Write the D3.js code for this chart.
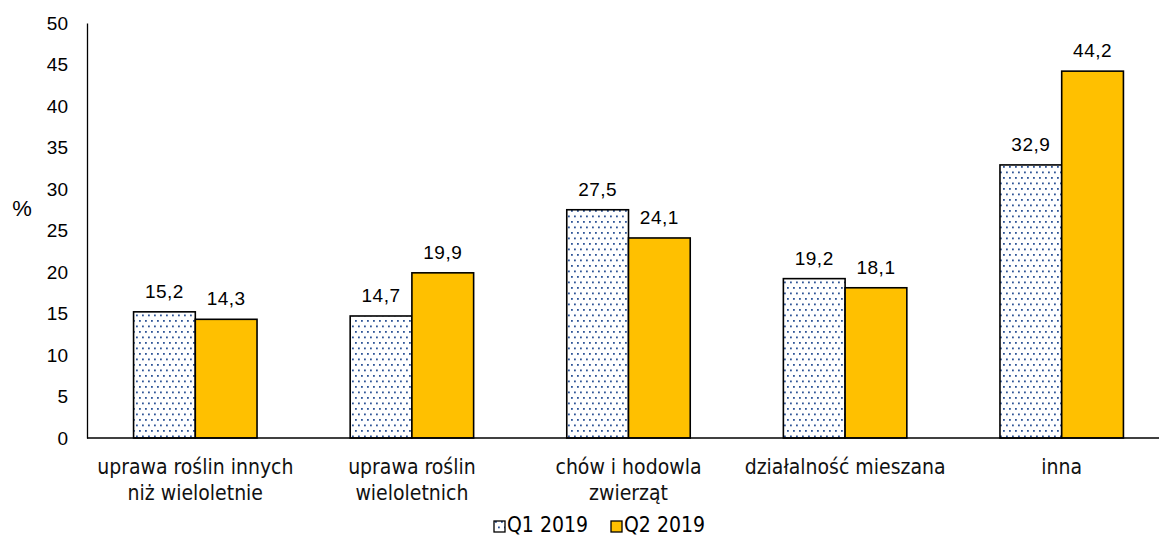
<!DOCTYPE html>
<html>
<head>
<meta charset="utf-8">
<script src="https://cdn.jsdelivr.net/npm/d3@7"></script>
<style>
body { margin: 0; background: #fff; }
</style>
</head>
<body>
<script>
// categories, one entry per line of the label
var categories = ["uprawa roślin innych niż wieloletnie", "uprawa roślin wieloletnich", "chów i hodowla zwierząt", "działalność mieszana", "inna"]
var labelLines = [
	["uprawa roślin innych", "niż wieloletnie"],
	["uprawa roślin", "wieloletnich"],
	["chów i hodowla", "zwierząt"],
	["działalność mieszana"],
	["inna"]
]
var seriesNames = ["Q1 2019", "Q2 2019"]
var q1 = [15.2, 14.7, 27.5, 19.2, 32.9]
var q2 = [14.3, 19.9, 24.1, 18.1, 44.2]
var yTicks = [0, 5, 10, 15, 20, 25, 30, 35, 40, 45, 50]

window.onload = function(){
	DrawChart()
}

function DrawChart(){
	var W = 1159, H = 537
	var left = 87, right = 1170, top = 23, bottom = 438
	var catFont = "'DejaVu Sans Condensed', 'DejaVu Sans', sans-serif"
	var numFont = "'Liberation Sans', Arial, sans-serif"

	var svg = d3.select("body").append("svg")
		.attr("width", W)
		.attr("height", H)

	//dotted pattern for Q1
	var defs = svg.append("defs")
	var pat = defs.append("pattern")
		.attr("id", "dots")
		.attr("patternUnits", "userSpaceOnUse")
		.attr("width", 6)
		.attr("height", 11)
	pat.append("rect").attr("width", 6).attr("height", 11).attr("fill", "#fff")
	pat.append("rect").attr("x", 1).attr("y", 1).attr("width", 1.8).attr("height", 1.8).attr("fill", "#2f5597")
	pat.append("rect").attr("x", 4).attr("y", 6.5).attr("width", 1.8).attr("height", 1.8).attr("fill", "#2f5597")

	var x = d3.scaleBand()
		.domain(categories)
		.range([left, right])
		.paddingInner(0.43)
		.paddingOuter(0.215)

	var xs = d3.scaleBand()
		.domain(seriesNames)
		.range([0, x.bandwidth()])

	var y = d3.scaleLinear()
		.domain([0, 50])
		.range([bottom, top])

	//y axis
	var yAxis = svg.append("g")
		.attr("transform", "translate(" + left + ",0)")
		.call(d3.axisLeft(y).tickValues(yTicks).tickSize(0).tickPadding(19))
	yAxis.select(".domain").attr("stroke", "#000").attr("stroke-width", 1.3)
	yAxis.selectAll("text")
		.style("font-family", numFont)
		.style("font-size", "19px")
		.attr("fill", "#000")

	svg.append("text")
		.attr("x", 22)
		.attr("y", 216)
		.attr("text-anchor", "middle")
		.style("font-family", numFont)
		.style("font-size", "22px")
		.text("%")

	var data = []
	categories.forEach(function(c, i){
		data.push({cat: c, s: seriesNames[0], v: q1[i]})
		data.push({cat: c, s: seriesNames[1], v: q2[i]})
	})

	svg.selectAll("rect.bar")
		.data(data)
		.enter()
		.append("rect")
		.attr("class", "bar")
		.attr("x", function(d){ return x(d.cat) + xs(d.s) })
		.attr("y", function(d){ return y(d.v) })
		.attr("width", xs.bandwidth())
		.attr("height", function(d){ return bottom - y(d.v) })
		.attr("fill", function(d){ return d.s === seriesNames[0] ? "url(#dots)" : "#ffc000" })
		.attr("stroke", "#000")
		.attr("stroke-width", 1.6)

	svg.selectAll("text.val")
		.data(data)
		.enter()
		.append("text")
		.attr("class", "val")
		.attr("x", function(d){ return x(d.cat) + xs(d.s) + xs.bandwidth() / 2 })
		.attr("y", function(d){ return y(d.v) - 14 })
		.attr("text-anchor", "middle")
		.style("font-family", numFont)
		.style("font-size", "19px")
		.style("letter-spacing", "0.5px")
		.text(function(d){ return String(d.v).replace(".", ",") })

	//x axis baseline
	svg.append("line")
		.attr("x1", left)
		.attr("x2", W)
		.attr("y1", bottom)
		.attr("y2", bottom)
		.attr("stroke", "#000")
		.attr("stroke-width", 1.3)

	//category labels
	categories.forEach(function(c, i){
		var cx = x(c) + x.bandwidth() / 2
		labelLines[i].forEach(function(line, j){
			svg.append("text")
				.attr("x", cx)
				.attr("y", 474 + j * 26)
				.attr("text-anchor", "middle")
				.style("font-family", catFont)
				.style("font-size", "21px")
				.attr("fill", "#111")
				.text(line)
		})
	})

	//legend
	var legX = [494, 611]
	var legend = svg.selectAll("g.leg")
		.data(seriesNames)
		.enter()
		.append("g")
		.attr("class", "leg")
		.attr("transform", function(d, i){ return "translate(" + legX[i] + ",520)" })
	legend.append("rect")
		.attr("width", 11)
		.attr("height", 11)
		.attr("y", 1)
		.attr("fill", function(d, i){ return i === 0 ? "url(#dots)" : "#ffc000" })
		.attr("stroke", "#000")
		.attr("stroke-width", 1.3)
	legend.append("text")
		.attr("x", 13)
		.attr("y", 12)
		.style("font-family", catFont)
		.style("font-size", "21px")
		.text(function(d){ return d })
}
</script>
</body>
</html>
